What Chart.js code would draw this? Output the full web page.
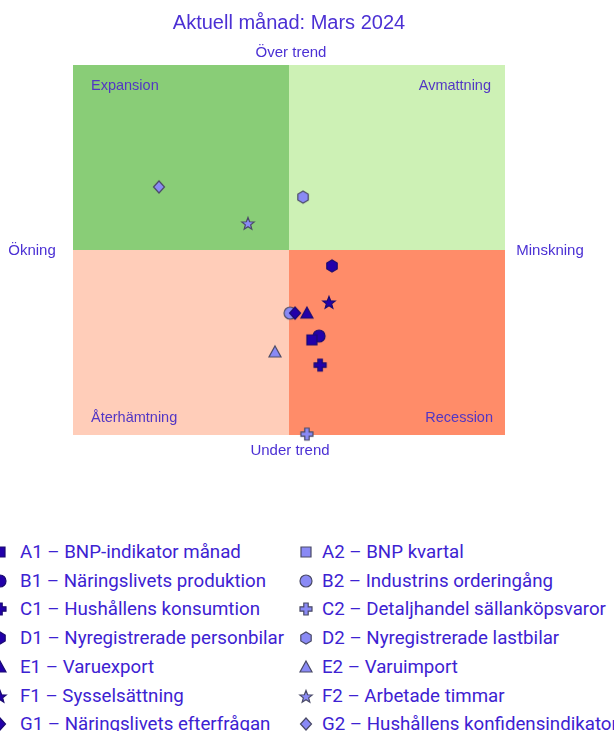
<!DOCTYPE html>
<html>
<head>
<meta charset="utf-8">
<script src="https://cdn.jsdelivr.net/npm/chart.js@4.4.1/dist/chart.umd.min.js"></script>
<style>
    html, body { margin: 0; padding: 0; background: #fff; overflow: hidden; }
    #wrap { position: relative; width: 614px; height: 731px; overflow: hidden; }
    #chartBox { position: absolute; left: 0; top: 0; width: 614px; height: 470px; }
    .lg { position: absolute; font-family: Roboto, sans-serif; font-size: 18.7px; color: #3d22d2; white-space: nowrap; line-height: 22px; }
    .lg canvas { position: absolute; }
</style>
</head>
<body>
<div id="wrap">
    <div id="chartBox"><canvas id="myQuadChart"></canvas></div>
    <div id="legend"></div>
</div>
<script>
// data
var codes = ['A1', 'A2', 'B1', 'B2', 'C1', 'C2', 'D1', 'D2', 'E1', 'E2', 'F1', 'F2', 'G1', 'G2'];
var names = ['BNP-indikator månad', 'BNP kvartal', 'Näringslivets produktion', 'Industrins orderingång',
    'Hushållens konsumtion', 'Detaljhandel sällanköpsvaror', 'Nyregistrerade personbilar', 'Nyregistrerade lastbilar',
    'Varuexport', 'Varuimport', 'Sysselsättning', 'Arbetade timmar', 'Näringslivets efterfrågan', 'Hushållens konfidensindikator'];
// x: change (negative = ökning, left), y: level vs trend
var xValues = [10.6, null, 13.9, 0.5, 14.4, 8.3, 19.9, 6.5, 8.3, -6.5, 18.5, -19.0, 2.8, -60.2];
var yValues = [-48.6, null, -46.5, -34.1, -62.2, -99.5, -8.6, 28.6, -34.1, -55.1, -28.1, 14.6, -34.1, 34.1];
var quadrantLabels = ['Expansion', 'Avmattning', 'Återhämtning', 'Recession'];
var axisLabels = ['Över trend', 'Under trend', 'Ökning', 'Minskning'];
var title = 'Aktuell månad: Mars 2024';

// styles
var shapes = ['square', 'circle', 'cross', 'hexagon', 'triangle', 'star', 'diamond'];
var darkFill = '#2200aa', darkLine = '#1a0a70';
var lightFill = '#8a8af5', lightLine = '#4a4a66';
var textColor = '#4b30d4';

function makeMarker(shape, fill, line) {
    var c = document.createElement('canvas');
    c.width = 16; c.height = 16;
    var g = c.getContext('2d');
    var cx = 8, cy = 8, r = 6;
    g.beginPath();
    if (shape === 'square') {
        g.rect(cx - 5, cy - 5, 10, 10);
    } else if (shape === 'circle') {
        g.arc(cx, cy, r, 0, Math.PI * 2);
    } else if (shape === 'cross') {
        var a = 2.2;
        g.moveTo(cx - a, cy - r); g.lineTo(cx + a, cy - r); g.lineTo(cx + a, cy - a);
        g.lineTo(cx + r, cy - a); g.lineTo(cx + r, cy + a); g.lineTo(cx + a, cy + a);
        g.lineTo(cx + a, cy + r); g.lineTo(cx - a, cy + r); g.lineTo(cx - a, cy + a);
        g.lineTo(cx - r, cy + a); g.lineTo(cx - r, cy - a); g.lineTo(cx - a, cy - a);
        g.closePath();
    } else if (shape === 'hexagon') {
        for (var i = 0; i < 6; i++) {
            var ang = Math.PI / 6 + i * Math.PI / 3;
            g.lineTo(cx + r * Math.cos(ang), cy + r * Math.sin(ang));
        }
        g.closePath();
    } else if (shape === 'triangle') {
        g.moveTo(cx, cy - 6); g.lineTo(cx + 6, cy + 5); g.lineTo(cx - 6, cy + 5);
        g.closePath();
    } else if (shape === 'star') {
        for (var k = 0; k < 10; k++) {
            var rr = k % 2 === 0 ? 6.5 : 2.8;
            var an = -Math.PI / 2 + k * Math.PI / 5;
            g.lineTo(cx + rr * Math.cos(an), cy + 1 + rr * Math.sin(an));
        }
        g.closePath();
    } else if (shape === 'diamond') {
        g.moveTo(cx, cy - 6); g.lineTo(cx + 5.5, cy); g.lineTo(cx, cy + 6); g.lineTo(cx - 5.5, cy);
        g.closePath();
    }
    g.fillStyle = fill;
    g.fill();
    g.lineWidth = 1.2;
    g.strokeStyle = line;
    g.stroke();
    return c;
}

var markers = codes.map(function (code, i) {
    var dark = i % 2 === 0;
    return makeMarker(shapes[Math.floor(i / 2)], dark ? darkFill : lightFill, dark ? darkLine : lightLine);
});

var datasets = codes.map(function (code, i) {
    return {
        label: code + ' – ' + names[i],
        data: xValues[i] === null ? [] : [{ x: xValues[i], y: yValues[i] }],
        pointStyle: markers[i],
        pointRadius: 7,
        pointHoverRadius: 7,
        clip: false,
        order: i % 2 === 0 ? 0 : 1
    };
});

var quadPlugin = {
    id: 'quadrants',
    beforeDatasetsDraw: function (chart) {
        var ctx = chart.ctx, a = chart.chartArea;
        var mx = chart.scales.x.getPixelForValue(0);
        var my = chart.scales.y.getPixelForValue(0);
        ctx.save();
        ctx.fillStyle = '#89cd77'; ctx.fillRect(a.left, a.top, mx - a.left, my - a.top);
        ctx.fillStyle = '#cdf1b5'; ctx.fillRect(mx, a.top, a.right - mx, my - a.top);
        ctx.fillStyle = '#ffcdb9'; ctx.fillRect(a.left, my, mx - a.left, a.bottom - my);
        ctx.fillStyle = '#ff8c69'; ctx.fillRect(mx, my, a.right - mx, a.bottom - my);

        ctx.textBaseline = 'middle';
        ctx.font = '14.5px "Liberation Sans", Arial, sans-serif';
        ctx.fillStyle = '#5236c4';
        ctx.textAlign = 'left';
        ctx.fillText(quadrantLabels[0], a.left + 18, a.top + 21);
        ctx.fillText(quadrantLabels[2], a.left + 18, a.bottom - 17);
        ctx.textAlign = 'right';
        ctx.fillText(quadrantLabels[1], a.right - 14, a.top + 21);
        ctx.fillText(quadrantLabels[3], a.right - 12, a.bottom - 17);

        ctx.fillStyle = textColor;
        ctx.font = '15px "Liberation Sans", Arial, sans-serif';
        ctx.textAlign = 'center';
        ctx.fillText(axisLabels[0], mx + 2, a.top - 12);
        ctx.fillText(axisLabels[1], mx + 1, a.bottom + 16);
        ctx.fillText(axisLabels[2], 32, my + 1);
        ctx.fillText(axisLabels[3], 550, my + 1);

        ctx.font = '20px "Liberation Sans", Arial, sans-serif';
        ctx.fillText(title, 289, 23);
        ctx.restore();
    }
};

new Chart(document.getElementById('myQuadChart'), {
    type: 'scatter',
    data: { datasets: datasets },
    options: {
        responsive: true,
        maintainAspectRatio: false,
        animation: false,
        layout: { padding: { left: 73, right: 109, top: 65, bottom: 35 } },
        scales: {
            x: { display: false, min: -100, max: 100 },
            y: { display: false, min: -100, max: 100 }
        },
        plugins: {
            legend: { display: false },
            title: { display: false },
            tooltip: { enabled: true }
        }
    },
    plugins: [quadPlugin]
});

// two-column legend below the chart, as in the reference (left edge cut off)
var legendEl = document.getElementById('legend');
codes.forEach(function (code, i) {
    var col = i % 2, row = Math.floor(i / 2);
    var item = document.createElement('div');
    item.className = 'lg';
    item.style.left = (col === 0 ? 20 : 322) + 'px';
    item.style.top = (541 + row * 28.7) + 'px';
    var mk = markers[i].cloneNode();
    mk.getContext('2d').drawImage(markers[i], 0, 0);
    mk.style.left = (col === 0 ? -28 : -24) + 'px';
    mk.style.top = '3px';
    item.appendChild(mk);
    item.appendChild(document.createTextNode(code + ' – ' + names[i]));
    legendEl.appendChild(item);
});
</script>
</body>
</html>
